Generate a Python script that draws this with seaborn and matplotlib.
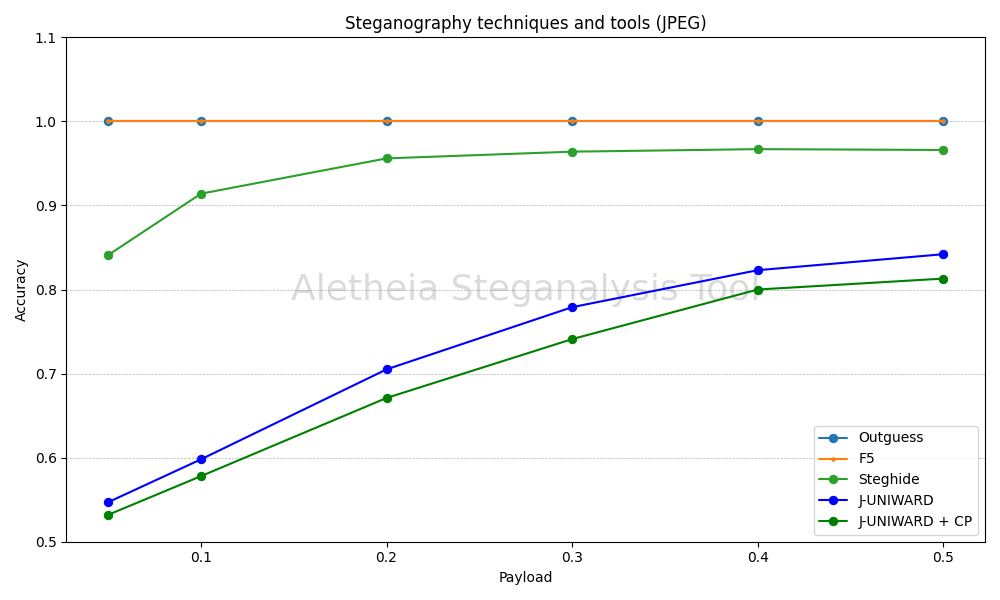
import matplotlib
matplotlib.use("Agg")
import matplotlib.pyplot as plt
import seaborn as sns
import pandas as pd

payload = [0.05, 0.1, 0.2, 0.3, 0.4, 0.5]
outguess = [1.0, 1.0, 1.0, 1.0, 1.0, 1.0]
f5 = [1.0, 1.0, 1.0, 1.0, 1.0, 1.0]
steghide = [0.841, 0.914, 0.956, 0.964, 0.967, 0.966]
juniward = [0.547, 0.598, 0.705, 0.779, 0.823, 0.842]
juniward_cp = [0.532, 0.578, 0.671, 0.741, 0.800, 0.813]

series = [
    ("Outguess", outguess, "#1f77b4", "o", 6),
    ("F5", f5, "#ff7f0e", ".", 5),
    ("Steghide", steghide, "#2ca02c", "o", 6),
    ("J-UNIWARD", juniward, "blue", "o", 6),
    ("J-UNIWARD + CP", juniward_cp, "green", "o", 6),
]

sns.set_style("white")
plt.rcParams['font.family'] = ['DejaVu Sans']
plt.rcParams['text.color'] = 'black'
plt.rcParams['axes.labelcolor'] = 'black'
plt.rcParams['xtick.color'] = 'black'
plt.rcParams['ytick.color'] = 'black'

fig, ax = plt.subplots(figsize=(10, 6), dpi=100)

ax.text(0.5, 0.5, "Aletheia Steganalysis Tool", transform=ax.transAxes,
        fontsize=26, color="lightgray", alpha=0.8, ha="center", va="center", zorder=0)

for name, vals, color, marker, ms in series:
    df = pd.DataFrame({"Payload": payload, "Accuracy": vals})
    sns.lineplot(data=df, x="Payload", y="Accuracy", ax=ax, color=color, marker=marker,
                 markersize=ms, markeredgecolor=color, label=name, linewidth=1.5)

ax.set_ylim(0.5, 1.1)
ax.set_xticks([0.1, 0.2, 0.3, 0.4, 0.5])
ax.set_xticklabels(["0.1", "0.2", "0.3", "0.4", "0.5"])
ax.set_yticks([0.5, 0.6, 0.7, 0.8, 0.9, 1.0, 1.1])
ax.yaxis.grid(True, linestyle="--", linewidth=0.5, color="gray", alpha=0.6)
ax.xaxis.grid(False)
ax.tick_params(axis="both", which="both", length=3.5, width=0.8, direction="out",
               left=True, bottom=True, colors="black")
for s in ax.spines.values():
    s.set_color("black")
    s.set_linewidth(0.8)

ax.set_title("Steganography techniques and tools (JPEG)", color="black")
ax.set_xlabel("Payload", color="black")
ax.set_ylabel("Accuracy", color="black")
leg = ax.legend(loc="lower right")
for t in leg.get_texts():
    t.set_color("black")

plt.tight_layout()
plt.savefig("out.png", dpi=100)
